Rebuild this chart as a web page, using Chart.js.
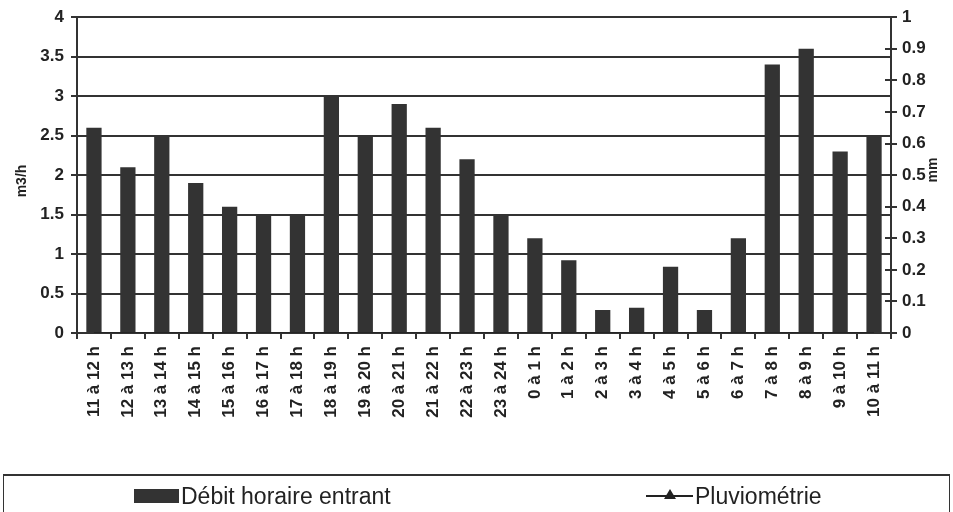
<!DOCTYPE html>
<html>
<head>
<meta charset="utf-8">
<script src="https://cdn.jsdelivr.net/npm/chart.js@4/dist/chart.umd.min.js"></script>
<style>
  html,body{margin:0;padding:0;background:#fff}
  #wrap{position:relative;width:953px;height:512px;overflow:hidden}
  #wrap canvas{position:absolute;left:0;top:0}
  .leg{position:absolute;left:3px;top:474px;width:945px;height:60px;border:1px solid #333;border-top:2px solid #333;
       font-family:'Liberation Sans',Arial,sans-serif;font-size:23px;color:#222}
  .leg .it{position:absolute;top:6px;display:flex;align-items:center;height:28px}
  .sw{display:inline-block;width:45px;height:14px;background:#333;margin-right:2px}
  .ln{position:relative;display:inline-block;width:47px;height:2px;background:#222;margin-right:2px}
  .ln i{position:absolute;left:18px;top:-6px;width:0;height:0;border-left:6px solid transparent;border-right:6px solid transparent;border-bottom:10px solid #222}
</style>
</head>
<body>
<div id="wrap">
  <canvas id="c" width="953" height="512"></canvas>
  <div class="leg">
    <div class="it" style="left:130px"><span class="sw"></span>Débit horaire entrant</div>
    <div class="it" style="left:642px"><span class="ln"><i></i></span>Pluviométrie</div>
  </div>
</div>
<script>
// ─ data ─
const heures=['11 à 12 h','12 à 13 h','13 à 14 h','14 à 15 h','15 à 16 h','16 à 17 h','17 à 18 h','18 à 19 h',
  '19 à 20 h','20 à 21 h','21 à 22 h','22 à 23 h','23 à 24 h','0 à 1 h','1 à 2 h','2 à 3 h','3 à 4 h','4 à 5 h',
  '5 à 6 h','6 à 7 h','7 à 8 h','8 à 9 h','9 à 10 h','10 à 11 h'];
const debit=[2.6,2.1,2.5,1.9,1.6,1.5,1.5,3.0,2.5,2.9,2.6,2.2,1.5,1.2,0.92,0.29,0.32,0.84,0.29,1.2,3.4,3.6,2.3,2.5];
const pluvio=[0,0,0,0,0,0,0,0,0,0,0,0,0,0,0,0,0,0,0,0,0,0,0,0];
const ticksGauche=[0,0.5,1,1.5,2,2.5,3,3.5,4];
const ticksDroite=[0,0.1,0.2,0.3,0.4,0.5,0.6,0.7,0.8,0.9,1];

const ink='#333';
Chart.defaults.font.family="'Liberation Sans',Arial,sans-serif";
Chart.defaults.color='#222';

// titres des axes (tous deux tournés vers le haut) + petites graduations intérieures à droite
const deco={
  id:'deco',
  afterDraw(ch){
    const g=ch.ctx, a=ch.chartArea, y1=ch.scales.y1;
    g.save();
    g.strokeStyle=ink;g.lineWidth=2;
    y1.ticks.forEach(t=>{
      const py=Math.round(y1.getPixelForValue(t.value));
      g.beginPath();g.moveTo(a.right-6,py);g.lineTo(a.right,py);g.stroke();
    });
    g.fillStyle='#222';g.font="bold 14px 'Liberation Sans',Arial";
    g.textAlign='center';g.textBaseline='middle';
    [['m3/h',22,181],['mm',933,170]].forEach(([s,x,y])=>{
      g.save();g.translate(x,y);g.rotate(-Math.PI/2);g.fillText(s,0,0);g.restore();
    });
    g.restore();
  }
};

const fmt=v=>String(v);

new Chart(document.getElementById('c'),{
  type:'bar',
  data:{
    labels:heures,
    datasets:[
      {label:'Pluviométrie',type:'line',data:pluvio,yAxisID:'y1',borderColor:'#222',borderWidth:1.5,pointRadius:0,order:0},
      {label:'Débit horaire entrant',data:debit,yAxisID:'y',backgroundColor:ink,barPercentage:0.45,categoryPercentage:1,order:1}
    ]
  },
  plugins:[deco],
  options:{
    responsive:false,animation:false,
    layout:{padding:{top:17,left:0,right:0,bottom:0}},
    plugins:{legend:{display:false},tooltip:{enabled:false}},
    scales:{
      x:{
        grid:{display:true,drawOnChartArea:false,color:ink,lineWidth:2,tickLength:6,offset:true},
        border:{color:ink,width:2},
        ticks:{autoSkip:false,minRotation:90,maxRotation:90,padding:7,font:{size:17,weight:'bold'},color:'#222'},
        afterFit:s=>{s.height=512-333}
      },
      y:{
        position:'left',min:0,max:4,
        afterBuildTicks:s=>{s.ticks=ticksGauche.map(v=>({value:v}))},
        grid:{color:ink,lineWidth:2,tickLength:6},
        border:{color:ink,width:2},
        ticks:{padding:7,font:{size:17,weight:'bold'},color:'#222',callback:fmt},
        afterFit:s=>{s.width=77}
      },
      y1:{
        position:'right',min:0,max:1,
        afterBuildTicks:s=>{s.ticks=ticksDroite.map(v=>({value:v}))},
        grid:{drawOnChartArea:false,color:ink,lineWidth:2,tickLength:6},
        border:{color:ink,width:2},
        ticks:{padding:5,font:{size:17,weight:'bold'},color:'#222',callback:fmt},
        afterFit:s=>{s.width=953-891}
      }
    }
  }
});
</script>
</body>
</html>
